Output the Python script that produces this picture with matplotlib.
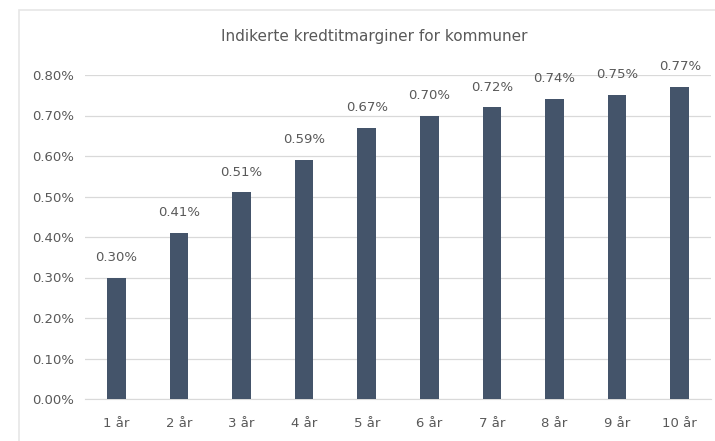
import matplotlib
matplotlib.use("Agg")
import matplotlib.pyplot as plt
from matplotlib.patches import Rectangle
from matplotlib.ticker import FuncFormatter

plt.rcParams['font.family'] = ['DejaVu Sans']

# data (percent)
categories = ['1 år', '2 år', '3 år', '4 år', '5 år', '6 år', '7 år', '8 år', '9 år', '10 år']
margins = [0.30, 0.41, 0.51, 0.59, 0.67, 0.70, 0.72, 0.74, 0.75, 0.77]
yticks = [0.0, 0.1, 0.2, 0.3, 0.4, 0.5, 0.6, 0.7, 0.8]

text_color = '#595959'
bar_color = '#44546A'
grid_color = '#D9D9D9'

fig = plt.figure(figsize=(7.15, 4.41), dpi=100)
fig.patch.set_facecolor('white')

# chart area border (light gray, runs off right/bottom)
fig.patches.append(Rectangle((19 / 715, -0.05), 1.0, 1 - 10 / 441 + 0.05,
                             transform=fig.transFigure, fill=False,
                             edgecolor='#E6E6E6', linewidth=1.2))

ax = fig.add_axes([85 / 715, 1 - 399 / 441, (711 - 85) / 715, (399 - 75) / 441])

x = range(len(categories))
bars = ax.bar(x, margins, width=0.30, color=bar_color, zorder=3)

for xi, v in zip(x, margins):
    ax.annotate(f'{v:.2f}%', (xi, v), xytext=(0, 10), textcoords='offset points',
                ha='center', va='bottom', fontsize=9.5, color=text_color,
                annotation_clip=False)

ax.set_xlim(-0.5, len(categories) - 0.5)
ax.set_ylim(0, 0.8)
ax.set_yticks(yticks)
ax.yaxis.set_major_formatter(FuncFormatter(lambda v, p: f'{v:.2f}%'))
ax.set_xticks(list(x))
ax.set_xticklabels(categories)

ax.grid(axis='y', color=grid_color, linewidth=0.9, zorder=0)
for side in ['top', 'right', 'left']:
    ax.spines[side].set_visible(False)
ax.spines['bottom'].set_color(grid_color)
ax.tick_params(axis='both', length=0, colors=text_color, labelsize=9.5)
ax.tick_params(axis='y', pad=8)
ax.tick_params(axis='x', pad=13)

fig.text(374 / 715, 1 - 36 / 441, 'Indikerte kredtitmarginer for kommuner',
         ha='center', va='center', fontsize=11, color=text_color)

fig.savefig('out.png', dpi=100)
